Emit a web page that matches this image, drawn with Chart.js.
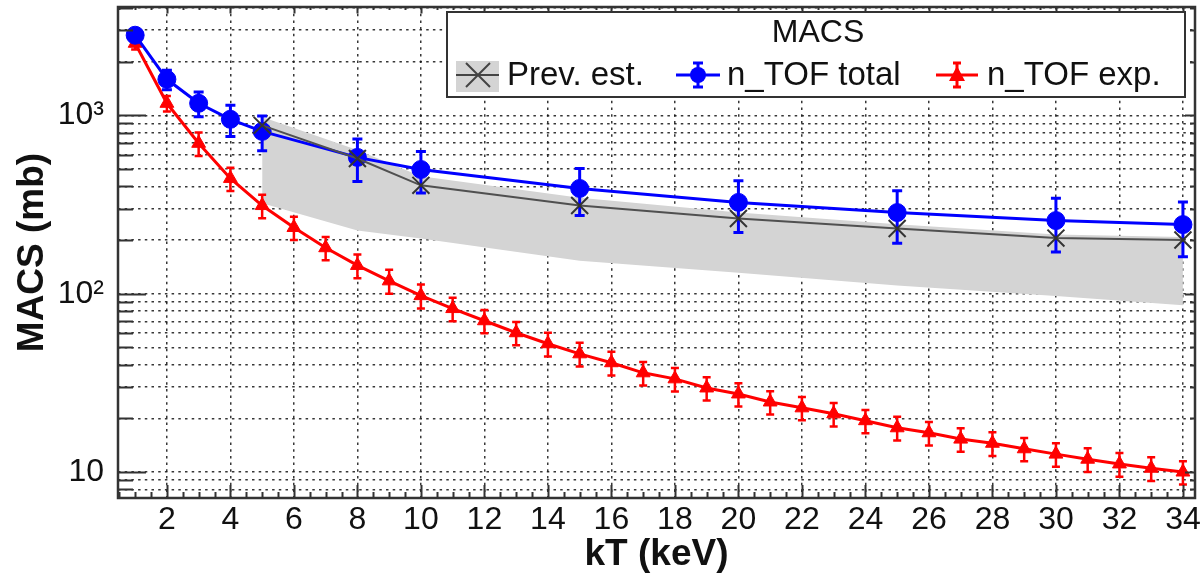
<!DOCTYPE html>
<html>
<head>
<meta charset="utf-8">
<title>MACS vs kT</title>
<script src="https://cdn.jsdelivr.net/npm/chart.js@4.4.1/dist/chart.umd.min.js"></script>
<style>
  html, body { margin: 0; padding: 0; background: #fff; }
  #wrap { width: 1201px; height: 573px; }
</style>
</head>
<body>
<div id="wrap"><canvas id="macsChart" width="1201" height="573"></canvas></div>
<script>
// n_TOF exp. (triángulos rojos)
const expKT = [1, 2, 3, 4, 5, 6, 7, 8, 9, 10, 11, 12, 13, 14, 15, 16, 17,
  18, 19, 20, 21, 22, 23, 24, 25, 26, 27, 28, 29, 30, 31, 32, 33, 34];
const expMACS = [2536, 1168, 697, 443, 312, 235, 181, 144, 118, 97.5, 82.5,
  70.5, 60.4, 52.4, 46, 41, 36, 33.3, 29.6, 27.4, 24.7, 22.9, 21.2, 19.4,
  17.7, 16.6, 15.3, 14.5, 13.5, 12.6, 11.8, 11.1, 10.5, 10.0];
const expErr = [200, 117, 105, 66, 47, 35, 27, 22, 18, 15, 12.5, 10.5, 9,
  8, 7, 6.2, 5.4, 5, 4.4, 4.1, 3.7, 3.4, 3.2, 2.9, 2.7, 2.5, 2.3, 2.2, 2.0,
  1.9, 1.8, 1.7, 1.6, 1.5];

// n_TOF total (círculos azules)
const totKT = [1, 2, 3, 4, 5, 8, 10, 15, 20, 25, 30, 34];
const totMACS = [2813, 1592, 1168, 950, 813, 581, 497, 389, 325, 285, 257, 244];
const totErr = [120, 200, 185, 190, 180, 155, 130, 115, 105, 93, 86, 83];

// Prev. est. (cruces y banda gris)
const prevKT = [5, 8, 10, 15, 20, 25, 30, 34];
const prevMACS = [879, 573, 405, 312, 264, 232, 205, 200];
const prevHi = [980, 640, 455, 345, 285, 245, 215, 208];
const prevLo = [321, 226, 204, 153, 131, 111, 97, 86];

// ejes
const xTicks = [2, 4, 6, 8, 10, 12, 14, 16, 18, 20, 22, 24, 26, 28, 30, 32, 34];
const yGrid = [8, 9, 10, 20, 30, 40, 50, 60, 70, 80, 90, 100, 200, 300, 400,
  500, 600, 700, 800, 900, 1000, 2000, 3000, 4000];
const yLabels = { 10: "10", 100: "10\u00b2", 1000: "10\u00b3" };

const FONT = "'Liberation Sans', Arial, Helvetica, sans-serif";
const FRAME = "#333";

function pts(xs, ys) {
  return xs.map((x, i) => ({ x: x, y: ys[i] }));
}

// Barras de error verticales dibujadas con las escalas del gráfico
const errorBars = {
  id: "errorBars",
  afterDatasetDraw(chart, args) {
    const ds = chart.data.datasets[args.index];
    if (!ds.errors) return;
    const ctx = chart.ctx;
    const xs = chart.scales.x;
    const ys = chart.scales.y;
    const area = chart.chartArea;
    ctx.save();
    ctx.beginPath();
    ctx.rect(area.left, area.top, area.right - area.left, area.bottom - area.top);
    ctx.clip();
    ctx.strokeStyle = ds.borderColor;
    ctx.lineWidth = ds.errWidth;
    ds.data.forEach((p, i) => {
      const px = xs.getPixelForValue(p.x);
      const top = ys.getPixelForValue(p.y + ds.errors[i]);
      const bot = ys.getPixelForValue(p.y - ds.errors[i]);
      const c = ds.capHalf;
      ctx.beginPath();
      ctx.moveTo(px, top);
      ctx.lineTo(px, bot);
      ctx.moveTo(px - c, top);
      ctx.lineTo(px + c, top);
      ctx.moveTo(px - c, bot);
      ctx.lineTo(px + c, bot);
      ctx.stroke();
    });
    ctx.restore();
  },
};

// Marco y marcas hacia dentro (estilo ROOT)
const frameTicks = {
  id: "frameTicks",
  afterDatasetsDraw(chart) {
    const ctx = chart.ctx;
    const xs = chart.scales.x;
    const ys = chart.scales.y;
    const a = chart.chartArea;
    ctx.save();
    ctx.strokeStyle = FRAME;
    ctx.lineWidth = 2;
    ctx.beginPath();
    for (let v = 0.5; v <= xs.max; v += 0.5) {
      if (v < xs.min) continue;
      const px = Math.round(xs.getPixelForValue(v)) + 0.5;
      const len = v % 2 === 0 ? 13 : 6;
      ctx.moveTo(px, a.bottom);
      ctx.lineTo(px, a.bottom - len);
      ctx.moveTo(px, a.top);
      ctx.lineTo(px, a.top + len * 0.5);
    }
    yGrid.forEach((v) => {
      const py = Math.round(ys.getPixelForValue(v)) + 0.5;
      const major = yLabels[v] !== undefined;
      ctx.moveTo(a.left, py);
      ctx.lineTo(a.left + (major ? 28 : 15), py);
      ctx.moveTo(a.right, py);
      ctx.lineTo(a.right - (major ? 10 : 5), py);
    });
    ctx.stroke();
    ctx.lineWidth = 2.5;
    ctx.strokeRect(a.left, a.top, a.right - a.left, a.bottom - a.top);
    ctx.restore();
  },
};

// Leyenda con recuadro, título y marcadores con barra de error
const macsLegend = {
  id: "macsLegend",
  afterDraw(chart) {
    const ctx = chart.ctx;
    const box = { x: 447, y: 12, w: 738, h: 85 };
    ctx.save();
    ctx.fillStyle = "#fff";
    ctx.fillRect(box.x, box.y, box.w, box.h);
    ctx.strokeStyle = FRAME;
    ctx.lineWidth = 2;
    ctx.strokeRect(box.x, box.y, box.w, box.h);

    ctx.fillStyle = "#111";
    ctx.font = "32px " + FONT;
    ctx.textAlign = "center";
    ctx.textBaseline = "middle";
    ctx.fillText("MACS", 818, 33);

    const ym = 75;
    ctx.textAlign = "left";
    ctx.font = "33px " + FONT;

    // Prev. est.
    ctx.fillStyle = "#d4d4d4";
    ctx.fillRect(456, 61, 43, 31);
    ctx.strokeStyle = "#444";
    ctx.lineWidth = 2;
    ctx.beginPath();
    ctx.moveTo(456, ym);
    ctx.lineTo(499, ym);
    ctx.moveTo(466, ym - 12);
    ctx.lineTo(490, ym + 12);
    ctx.moveTo(466, ym + 12);
    ctx.lineTo(490, ym - 12);
    ctx.stroke();
    ctx.fillStyle = "#111";
    ctx.fillText("Prev. est.", 507, ym + 1);

    // n_TOF total
    ctx.strokeStyle = "#0000ff";
    ctx.fillStyle = "#0000ff";
    ctx.lineWidth = 3;
    ctx.beginPath();
    ctx.moveTo(676, ym);
    ctx.lineTo(720, ym);
    ctx.moveTo(698, ym - 12);
    ctx.lineTo(698, ym + 12);
    ctx.moveTo(693, ym - 12);
    ctx.lineTo(703, ym - 12);
    ctx.moveTo(693, ym + 12);
    ctx.lineTo(703, ym + 12);
    ctx.stroke();
    ctx.beginPath();
    ctx.arc(698, ym, 8, 0, Math.PI * 2);
    ctx.fill();
    ctx.fillStyle = "#111";
    ctx.fillText("n_TOF total", 727, ym + 1);

    // n_TOF exp.
    ctx.strokeStyle = "#ff0000";
    ctx.fillStyle = "#ff0000";
    ctx.beginPath();
    ctx.moveTo(936, ym);
    ctx.lineTo(978, ym);
    ctx.moveTo(957, ym - 12);
    ctx.lineTo(957, ym + 12);
    ctx.moveTo(953, ym - 12);
    ctx.lineTo(961, ym - 12);
    ctx.moveTo(953, ym + 12);
    ctx.lineTo(961, ym + 12);
    ctx.stroke();
    ctx.beginPath();
    ctx.moveTo(957, ym - 9);
    ctx.lineTo(965, ym + 6);
    ctx.lineTo(949, ym + 6);
    ctx.closePath();
    ctx.fill();
    ctx.fillStyle = "#111";
    ctx.fillText("n_TOF exp.", 987, ym + 1);
    ctx.restore();
  },
};

document.addEventListener("DOMContentLoaded", function () {
  const ctx = document.getElementById("macsChart").getContext("2d");
  new Chart(ctx, {
    type: "line",
    data: {
      datasets: [
        {
          label: "band hi",
          data: pts(prevKT, prevHi),
          borderWidth: 0,
          pointRadius: 0,
          backgroundColor: "#d4d4d4",
          fill: "+1",
          order: 10,
        },
        {
          label: "band lo",
          data: pts(prevKT, prevLo),
          borderWidth: 0,
          pointRadius: 0,
          fill: false,
          order: 11,
        },
        {
          label: "n_TOF exp.",
          data: pts(expKT, expMACS),
          errors: expErr,
          errWidth: 2.5,
          capHalf: 4,
          borderColor: "#ff0000",
          backgroundColor: "#ff0000",
          borderWidth: 3,
          pointStyle: "triangle",
          pointRadius: 8,
          pointBorderWidth: 1,
          fill: false,
          order: 3,
        },
        {
          label: "n_TOF total",
          data: pts(totKT, totMACS),
          errors: totErr,
          errWidth: 3,
          capHalf: 5,
          borderColor: "#0000ff",
          backgroundColor: "#0000ff",
          borderWidth: 3,
          pointStyle: "circle",
          pointRadius: 9,
          pointBorderWidth: 1,
          fill: false,
          order: 2,
        },
        {
          label: "Prev. est.",
          data: pts(prevKT, prevMACS),
          borderColor: "#505050",
          borderWidth: 2,
          pointStyle: "crossRot",
          pointRadius: 12,
          pointBorderColor: "#333",
          pointBorderWidth: 2,
          fill: false,
          order: 1,
        },
      ],
    },
    options: {
      responsive: false,
      animation: false,
      devicePixelRatio: 1,
      layout: { autoPadding: false, padding: { left: 0, right: 6, top: 7, bottom: 0 } },
      plugins: {
        legend: { display: false },
        tooltip: { enabled: false },
      },
      scales: {
        x: {
          type: "linear",
          min: 0.46,
          max: 34.38,
          afterBuildTicks: (s) => {
            s.ticks = xTicks.map((v) => ({ value: v }));
          },
          afterFit: (s) => {
            s.height = 75;
            s.paddingLeft = 0;
            s.paddingRight = 0;
          },
          grid: { color: "rgba(20,20,20,0.85)", lineWidth: 1.5, drawTicks: false },
          border: { display: false, dash: [2.5, 4.2] },
          ticks: {
            autoSkip: false,
            maxRotation: 0,
            padding: 3,
            color: "#111",
            font: { family: FONT, size: 32 },
          },
          title: {
            display: true,
            text: "kT (keV)",
            color: "#111",
            font: { family: FONT, size: 37, weight: "bold", lineHeight: 1 },
            padding: { top: 0, bottom: 0 },
          },
        },
        y: {
          type: "logarithmic",
          min: 7.15,
          max: 4050,
          afterBuildTicks: (s) => {
            s.ticks = yGrid.map((v) => ({ value: v, major: yLabels[v] !== undefined }));
          },
          afterFit: (s) => {
            s.width = 118;
            s.paddingTop = 0;
            s.paddingBottom = 0;
          },
          grid: { color: "rgba(20,20,20,0.85)", lineWidth: 1.5, drawTicks: false },
          border: { display: false, dash: [2.5, 4.2] },
          ticks: {
            autoSkip: false,
            padding: 14,
            color: "#111",
            font: { family: FONT, size: 32 },
            callback: (v) => (yLabels[v] !== undefined ? yLabels[v] : ""),
          },
          title: {
            display: true,
            text: "MACS (mb)",
            color: "#111",
            font: { family: FONT, size: 37, weight: "bold", lineHeight: 1 },
            padding: { top: 14, bottom: 0 },
          },
        },
      },
    },
    plugins: [errorBars, frameTicks, macsLegend],
  });
});
</script>
</body>
</html>
